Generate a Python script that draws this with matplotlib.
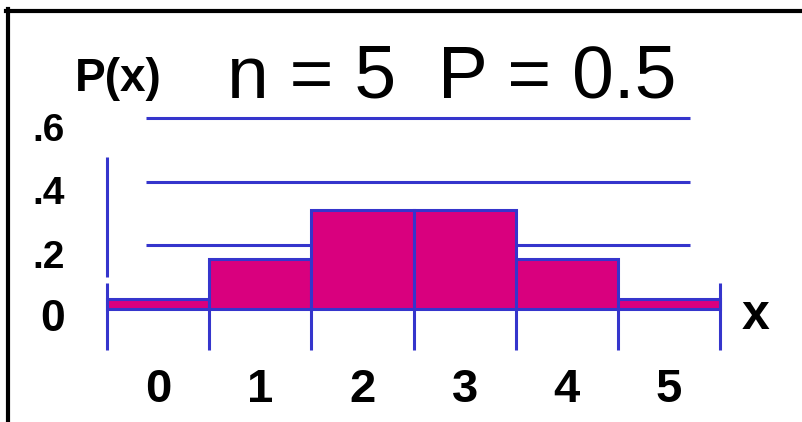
import matplotlib
matplotlib.use("Agg")
import matplotlib.pyplot as plt
from matplotlib.lines import Line2D

# Data
x_values = [0, 1, 2, 3, 4, 5]
probabilities = [0.03125, 0.15625, 0.3125, 0.3125, 0.15625, 0.03125]
y_ticks = [0.0, 0.2, 0.4, 0.6]
y_tick_labels = ["0", ".2", ".4", ".6"]
x_tick_labels = ["0", "1", "2", "3", "4", "5"]
title_text = "n = 5  P = 0.5"
y_label = "P(x)"
x_label = "x"

BAR = "#D9007E"
BLUE = "#3535CC"
FONT = "Liberation Sans"

fig = plt.figure(figsize=(8.02, 4.22), dpi=100)
ax = fig.add_axes([0, 0, 1, 1])
ax.set_xlim(-1.547, 6.302)
ax.set_ylim(-0.356, 0.973)
ax.axis("off")

# grid lines
ax.hlines([t for t in y_ticks if t > 0], -0.118, 5.206, colors=BLUE, lw=2.2, zorder=1)

# y axis segment
ax.vlines(-0.5, 0.10, 0.48, colors=BLUE, lw=2.2, zorder=1)

# bars
ax.bar(x_values, probabilities, width=1.0, color=BAR, edgecolor=BLUE,
       linewidth=2.2, zorder=2)

# tick lines below baseline at bar edges
edges = [x - 0.5 for x in x_values] + [x_values[-1] + 0.5]
ax.vlines(edges, -0.129, 0.0, colors=BLUE, lw=2.2, zorder=3)
ax.vlines([edges[0], edges[-1]], 0.0, 0.082, colors=BLUE, lw=2.2, zorder=3)

# y tick labels
for t, lab in zip(y_ticks, y_tick_labels):
    fs = 32 if lab == "0" else 28
    ax.text(-0.911, t - 0.07, lab, ha="right", va="baseline",
            fontsize=fs, fontweight="bold", family=FONT, color="black")

# x tick labels
for xv, lab in zip(x_values, x_tick_labels):
    ax.text(xv, -0.293, lab, ha="center", va="baseline",
            fontsize=34, fontweight="bold", family=FONT, color="black")

# axis labels
ax.text(5.847, -0.063, x_label, ha="center", va="baseline",
        fontsize=36, fontweight="bold", family=FONT)
ax.text(-0.392, 0.687, y_label, ha="center", va="baseline",
        fontsize=33, fontweight="bold", family=FONT)

# title
ax.text(2.872, 0.665, title_text, ha="center", va="baseline",
        fontsize=54, family=FONT)

# frame lines (black)
fig.add_artist(Line2D([6 / 802, 1.0], [1 - 10.5 / 422, 1 - 10.5 / 422],
                      color="black", lw=3.0, transform=fig.transFigure))
fig.add_artist(Line2D([8.3 / 802, 8.3 / 802], [0.0, 1 - 9 / 422],
                      color="black", lw=3.0, transform=fig.transFigure))

fig.savefig("out.png", dpi=100)
